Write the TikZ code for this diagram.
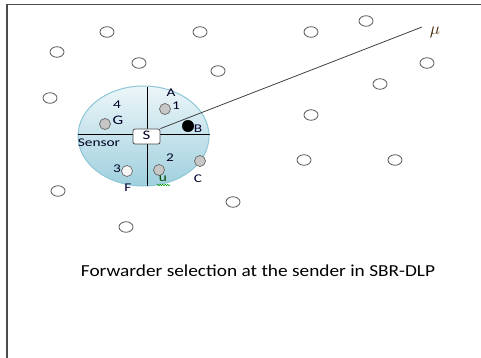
\documentclass[tikz,border=0pt]{standalone}
\usepackage{fontspec}
\setmainfont{Carlito}
\newfontfamily\labfont[FakeStretch=1.3]{Carlito}
\newfontfamily\capfont[FakeStretch=1.15]{Carlito}
\usetikzlibrary{shapes.geometric,decorations.pathmorphing}
\begin{document}
\begin{tikzpicture}[x=1pt,y=-1pt,
  frameline/.style={draw=black!70,line width=1.1pt},
  node/.style={ellipse,draw=black!65,fill=white,line width=0.8pt,minimum width=14pt,minimum height=10.5pt,inner sep=0pt},
  graynode/.style={circle,draw=black!60,fill=black!22,line width=0.7pt,minimum size=11pt,inner sep=0pt},
  whitenode/.style={circle,draw=black!60,fill=black!4,line width=0.7pt,minimum size=11pt,inner sep=0pt},
  blacknode/.style={circle,draw=black,fill=black,minimum size=11.5pt,inner sep=0pt},
  lab/.style={font=\labfont\fontsize{11.8}{13}\selectfont,inner sep=0pt,text=black!85!blue},
  divider/.style={draw=black,line width=0.8pt}
]
\useasboundingbox (0,0) rectangle (481,358);
% frame
\draw[frameline] (7,358) -- (7,4.5) -- (481,4.5);
% outer nodes
\node[node] (n1) at (57,52) {};
\node[node] (n2) at (107,32) {};
\node[node] (n3) at (139,63) {};
\node[node] (n4) at (200,32) {};
\node[node] (n5) at (218,71) {};
\node[node] (n6) at (311,32) {};
\node[node] (n7) at (366,21) {};
\node[node] (n8) at (427,63) {};
\node[node] (n9) at (380,84) {};
\node[node] (n10) at (311,115) {};
\node[node] (n11) at (304,160) {};
\node[node] (n12) at (395,160) {};
\node[node] (n13) at (50,98) {};
\node[node] (n14) at (58,191) {};
\node[node] (n15) at (233,202) {};
\node[node] (n16) at (126,227) {};
% sensor area
\node[ellipse,minimum width=131pt,minimum height=100pt,inner sep=0pt,
  draw={rgb,255:red,140;green,198;blue,215},line width=1pt,
  top color={rgb,255:red,236;green,246;blue,249},
  bottom color={rgb,255:red,160;green,208;blue,222}] (area) at (143.5,136) {};
\draw[divider] (area.west |- 0,134) -- (area.east |- 0,134);
\draw[divider] (147,87) -- (147,186);
% sender box
\node[draw=black!70,fill=white,rounded corners=2pt,minimum width=27pt,minimum height=15pt,inner sep=0pt,line width=0.8pt] (S) at (146.5,136.5) {};
\node[lab,font=\labfont\fontsize{13}{14}\selectfont] (Slab) at (146.5,135.5) {S};
\coordinate (mu) at (422,27);
\draw[black!75,line width=0.8pt] (S.north east) -- (mu);
\node[font=\fontsize{16}{17}\selectfont,text=black!75!orange] (mulab) at (435,32) {$\mu$};
% inner nodes
\node[graynode] (g1) at (165,109) {};
\node[blacknode] (gB) at (188,126) {};
\node[graynode] (gG) at (105,124) {};
\node[whitenode] (g3) at (127,171) {};
\node[graynode] (gu) at (159,170) {};
\node[graynode] (gC) at (200,161) {};
% labels
\node[lab] (lA) at (171,93) {A};
\node[lab] (l1) at (176,106) {1};
\node[lab] (lB) at (198,129) {B};
\node[lab] (l4) at (117,105) {4};
\node[lab,font=\labfont\fontsize{13}{14}\selectfont] (lG) at (118,120) {G};
\node[lab] (lSensor) at (99,143) {Sensor};
\node[lab] (l3) at (117,169) {3};
\node[lab,text=black!80!blue] (lF) at (128,188) {F};
\node[lab,text=black!70!green] (lu) at (163,179) {u};
\node[lab] (l2) at (170,158) {2};
\node[lab,text=black!80!blue] (lC) at (198,179) {C};
\draw[green!60!black,line width=0.5pt,decorate,decoration={snake,amplitude=0.8pt,segment length=2.5pt}] (157,185) -- (170,185);
% caption
\node[font=\capfont\fontsize{16.8}{18}\selectfont,inner sep=0pt] (cap) at (258,271) {Forwarder selection at the sender in SBR-DLP};
\end{tikzpicture}
\end{document}
